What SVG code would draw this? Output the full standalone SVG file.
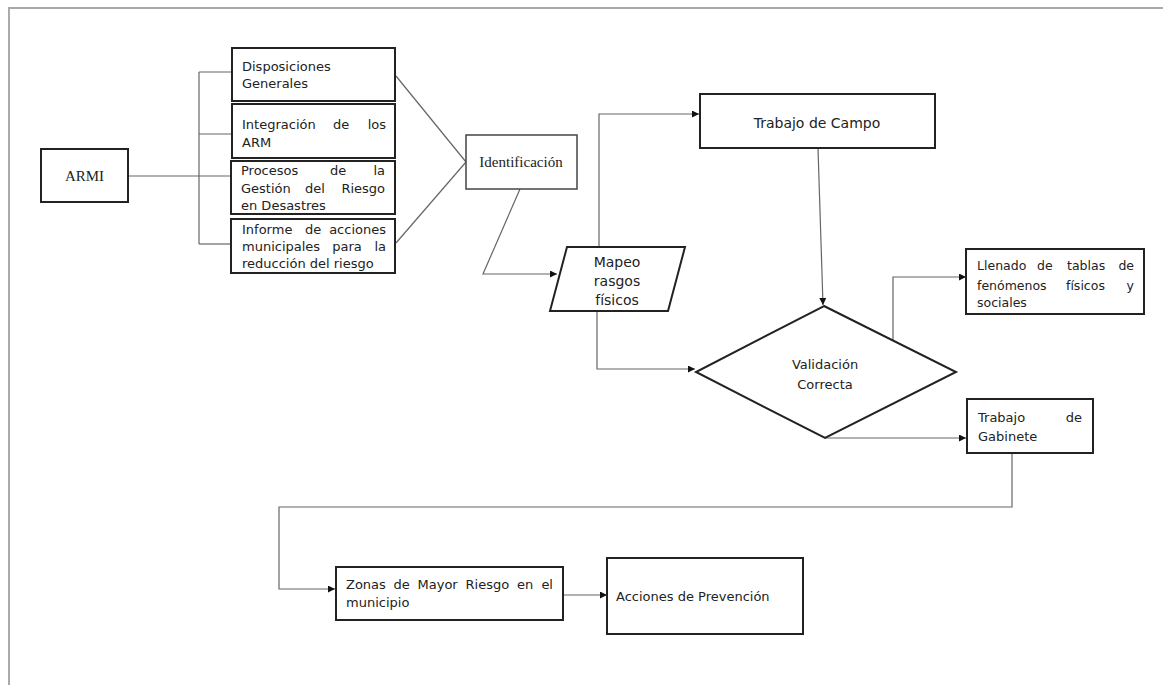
<svg xmlns="http://www.w3.org/2000/svg" width="1163" height="685" viewBox="0 0 1163 685">
<defs>
<style>
.box{fill:#fff;stroke:#222;stroke-width:2}
.thin{fill:#fff;stroke:#444;stroke-width:1.5}
.con{fill:none;stroke:#666;stroke-width:1.2}
.t{font-family:"DejaVu Sans",Verdana,sans-serif;font-size:13px;fill:#222}
.t12{font-family:"DejaVu Sans",Verdana,sans-serif;font-size:12.5px;fill:#222}
.tm{font-family:"DejaVu Sans",Verdana,sans-serif;font-size:14px;fill:#222}
.ts{font-family:"Liberation Serif","Times New Roman",serif;font-size:15px;fill:#222}
.m{text-anchor:middle}
.e{text-anchor:end}
</style>
<marker id="arr" viewBox="0 0 10 10" refX="10" refY="5" markerWidth="7" markerHeight="7" markerUnits="userSpaceOnUse" orient="auto">
<path d="M0,0 L10,5 L0,10 Z" fill="#111"/>
</marker>
</defs>
<rect width="1163" height="685" fill="#fff"/>
<path d="M9,686 L9,8 L1164,8" fill="none" stroke="#aaa" stroke-width="2"/>

<g id="connectors">
<path class="con" d="M128,176 L231,176"/>
<path class="con" d="M199,72 L199,244"/>
<path class="con" d="M199,72 L232,72"/>
<path class="con" d="M199,134 L232,134"/>
<path class="con" d="M199,244 L231,244"/>
<path class="con" d="M396,76 L466,162"/>
<path class="con" d="M396,243 L466,162"/>
<path class="con" d="M520,189 L483,274 L557,274" marker-end="url(#arr)"/>
<path class="con" d="M599,247 L599,114 L699,114" marker-end="url(#arr)"/>
<path class="con" d="M597,311 L597,369 L695,369" marker-end="url(#arr)"/>
<path class="con" d="M818,148 L823,305" marker-end="url(#arr)"/>
<path class="con" d="M893,340 L893,277 L966,277" marker-end="url(#arr)"/>
<path class="con" d="M825,438 L966,438" marker-end="url(#arr)"/>
<path class="con" d="M1012,453 L1012,507 L279,507 L279,589 L335,589" marker-end="url(#arr)"/>
<path class="con" d="M563,595 L607,595" marker-end="url(#arr)"/>
</g>

<g id="armi">
<rect class="box" x="41" y="149" width="87" height="53"/>
<text class="ts m" x="84.5" y="181">ARMI</text>
</g>

<g id="disposiciones">
<rect class="box" x="232" y="48" width="163" height="53"/>
<text class="t" x="242" y="71">Disposiciones</text>
<text class="t" x="242" y="88">Generales</text>
</g>

<g id="integracion">
<rect class="box" x="232" y="104" width="163" height="54"/>
<text class="t" y="129"><tspan x="242">Integración</tspan><tspan class="m" x="341">de</tspan><tspan class="e" x="386">los</tspan></text>
<text class="t" x="242" y="147">ARM</text>
</g>

<g id="procesos">
<rect class="box" x="231" y="161" width="164" height="53"/>
<text class="t" y="175"><tspan x="241">Procesos</tspan><tspan class="m" x="338">de</tspan><tspan class="e" x="385">la</tspan></text>
<text class="t" y="193"><tspan x="241">Gestión</tspan><tspan class="m" x="315">del</tspan><tspan class="e" x="385">Riesgo</tspan></text>
<text class="t" x="241" y="210">en Desastres</text>
</g>

<g id="informe">
<rect class="box" x="231" y="219" width="164" height="54"/>
<text class="t" y="234"><tspan x="242">Informe</tspan><tspan class="m" x="313">de</tspan><tspan class="e" x="386">acciones</tspan></text>
<text class="t" y="251"><tspan x="242">municipales</tspan><tspan class="m" x="347">para</tspan><tspan class="e" x="386">la</tspan></text>
<text class="t" x="242" y="268">reducción del riesgo</text>
</g>

<g id="identificacion">
<rect class="thin" x="466" y="135" width="111" height="54"/>
<text class="ts m" x="521" y="167">Identificación</text>
</g>

<g id="mapeo">
<polygon class="box" points="567,247 685,247 668,311 550,311"/>
<text class="tm m" x="617" y="267">Mapeo</text>
<text class="tm m" x="617" y="286">rasgos</text>
<text class="tm m" x="617" y="305">físicos</text>
</g>

<g id="campo">
<rect class="box" x="700" y="94" width="235" height="54"/>
<text class="tm m" x="817" y="128">Trabajo de Campo</text>
</g>

<g id="validacion">
<polygon class="box" points="824,306 956,372 825,438 696,372"/>
<text class="t m" x="825" y="369">Validación</text>
<text class="t m" x="825" y="389">Correcta</text>
</g>

<g id="llenado">
<rect class="box" x="966" y="249" width="178" height="65"/>
<text class="t12" y="270"><tspan x="977">Llenado</tspan><tspan x="1037">de</tspan><tspan x="1067">tablas</tspan><tspan class="e" x="1134">de</tspan></text>
<text class="t12" y="290"><tspan x="977">fenómenos</tspan><tspan x="1066">físicos</tspan><tspan class="e" x="1134">y</tspan></text>
<text class="t12" x="977" y="307">sociales</text>
</g>

<g id="gabinete">
<rect class="box" x="967" y="399" width="126" height="54"/>
<text class="t" y="422"><tspan x="978">Trabajo</tspan><tspan class="e" x="1082">de</tspan></text>
<text class="t" x="978" y="441">Gabinete</text>
</g>

<g id="zonas">
<rect class="box" x="336" y="567" width="227" height="53"/>
<text class="t" y="589"><tspan x="346">Zonas</tspan><tspan x="393.5">de</tspan><tspan x="417.5">Mayor</tspan><tspan x="465.5">Riesgo</tspan><tspan x="517">en</tspan><tspan class="e" x="553">el</tspan></text>
<text class="t" x="346" y="607">municipio</text>
</g>

<g id="acciones">
<rect class="box" x="607" y="558" width="196" height="76"/>
<text class="t" x="616" y="601">Acciones de Prevención</text>
</g>
</svg>
